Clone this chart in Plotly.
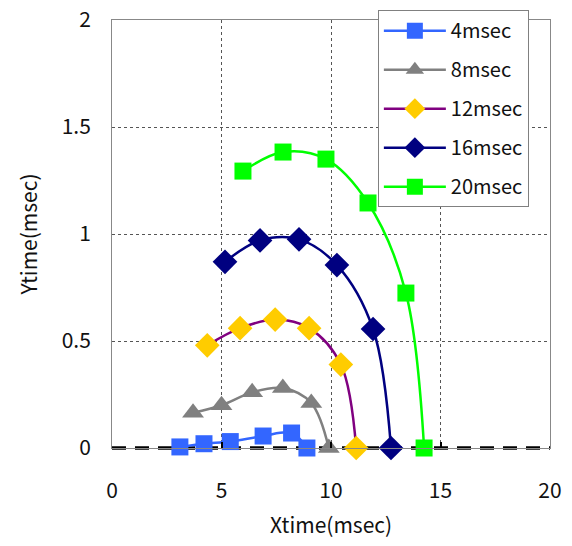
import plotly.graph_objects as go

names = ["4msec", "8msec", "12msec", "16msec", "20msec"]

x4 = [3.1, 4.2, 5.4, 6.9, 8.2, 8.9]
y4 = [0.005, 0.02, 0.03, 0.056, 0.07, 0.0]

x8 = [3.7, 5.0, 6.4, 7.8, 9.1, 9.9]
y8 = [0.165, 0.2, 0.26, 0.28, 0.21, 0.0]

x12 = [4.35, 5.85, 7.45, 9.0, 10.45, 11.15]
y12 = [0.48, 0.56, 0.60, 0.56, 0.39, 0.0]

x16 = [5.16, 6.76, 8.54, 10.27, 11.92, 12.74]
y16 = [0.87, 0.97, 0.975, 0.855, 0.556, 0.0]

x20 = [5.98, 7.81, 9.77, 11.69, 13.42, 14.25]
y20 = [1.294, 1.383, 1.35, 1.145, 0.724, 0.0]

xs = [x4, x8, x12, x16, x20]
ys = [y4, y8, y12, y16, y20]
line_colors = ["#3366FF", "#808080", "#800080", "#000080", "#00FF00"]
marker_colors = ["#3366FF", "#808080", "#FFCC00", "#000080", "#00FF00"]
symbols = ["square", "triangle-up", "diamond", "diamond", "square"]
sizes = [17, 19, 19, 19, 17]

FONT = "Noto Sans CJK JP, Noto Sans, sans-serif"

fig = go.Figure()
for i in range(len(names)):
    fig.add_trace(go.Scatter(
        x=xs[i], y=ys[i], name=names[i], mode="lines+markers",
        line=dict(color=line_colors[i], width=2.5, shape="spline", smoothing=1.0),
        marker=dict(symbol=symbols[i], size=sizes[i], color=marker_colors[i],
                    line=dict(width=0)),
        legendgroup=names[i],
        cliponaxis=False,
    ))

fig.add_shape(type="line", xref="paper", yref="paper", x0=0, x1=1, y0=0, y1=0,
              line=dict(color="black", width=3.5, dash="14px,9px"), layer="between")

fig.update_layout(
    width=572, height=546,
    margin=dict(l=112, r=22, t=20, b=98, autoexpand=False),
    paper_bgcolor="white", plot_bgcolor="white",
    font=dict(family=FONT, size=21, color="#111111"),
    showlegend=True,
    legend=dict(x=0.607, y=1.023, xanchor="left", yanchor="top",
                bgcolor="white", bordercolor="#808080", borderwidth=1,
                font=dict(size=20, family=FONT), tracegroupgap=10,
                itemwidth=62),
    xaxis=dict(range=[0, 20], tickvals=[0, 5, 10, 15, 20],
               showgrid=True, gridcolor="#555555", griddash="dot", gridwidth=1,
               showline=True, linecolor="#888888", linewidth=1, mirror=True,
               zeroline=False, ticks="inside", ticklen=6, tickcolor="black",
               tickwidth=2, ticklabelstandoff=24,
               title=dict(text="Xtime(msec)", font=dict(size=21), standoff=15),
               tickfont=dict(size=21)),
    yaxis=dict(range=[0, 2], tickvals=[0, 0.5, 1, 1.5, 2],
               ticktext=["0", "0.5", "1", "1.5", "2"],
               showgrid=True, gridcolor="#555555", griddash="dot", gridwidth=1,
               showline=True, linecolor="#888888", linewidth=1, mirror=True,
               zeroline=False, ticks="", ticklabelstandoff=16,
               title=dict(text="Ytime(msec)", font=dict(size=21), standoff=18),
               tickfont=dict(size=21)),
)

fig.write_html("out.html")
